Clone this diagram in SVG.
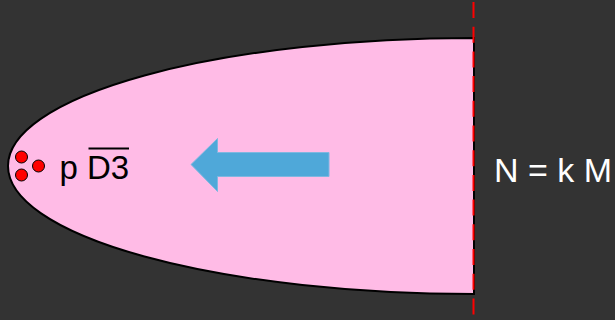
<svg xmlns="http://www.w3.org/2000/svg" width="615" height="320" viewBox="0 0 615 320">
<style>
.dot{fill:#ff0000;stroke:#000;stroke-width:1}
.lbl{font-family:"Liberation Sans",Arial,sans-serif}
</style>
<rect width="615" height="320" fill="#333333"/>
<g id="region">
<path d="M474,38 A466,128 0 0 0 474,294 Z" fill="#ffbbe6" stroke="#000" stroke-width="2"/>
</g>
<g id="particles">
<circle class="dot" cx="21.5" cy="157" r="6"/>
<circle class="dot" cx="38.5" cy="166" r="6"/>
<circle class="dot" cx="21.5" cy="175" r="6"/>
<text class="lbl" x="59.5" y="178.5" font-size="33" fill="#000">p D3</text>
<line x1="88.5" y1="148.5" x2="129" y2="148.5" stroke="#000" stroke-width="2"/>
</g>
<g id="arrow">
<path d="M191,164.5 L217.5,138.5 L217.5,152.5 L329,152.5 L329,176.5 L217.5,176.5 L217.5,191.5 Z" fill="#4fa8d9" stroke="#7fb7e0" stroke-width="1"/>
</g>
<g id="boundary">
<line x1="473.5" y1="0" x2="473.5" y2="320" stroke="#ff0000" stroke-width="2" stroke-dasharray="16,8.7" stroke-dashoffset="-2"/>
</g>
<g id="label">
<text class="lbl" x="494" y="182" font-size="34" fill="#ffffff">N = k M</text>
</g>
</svg>
